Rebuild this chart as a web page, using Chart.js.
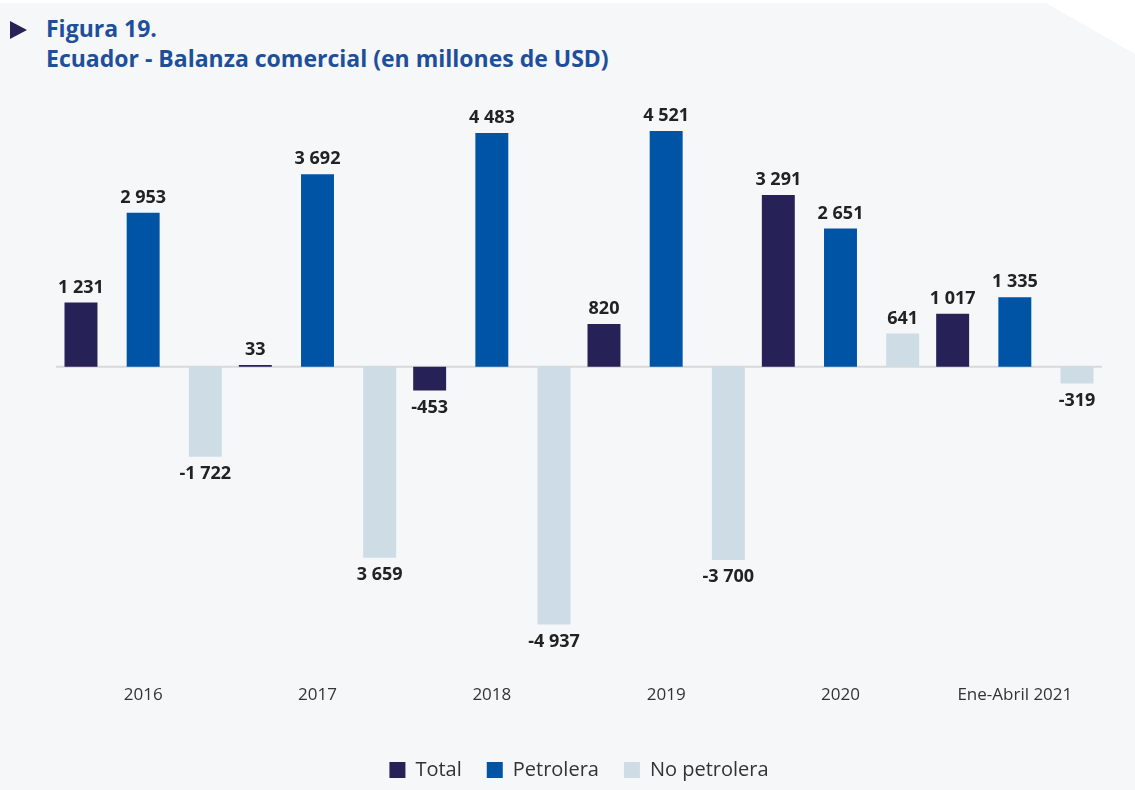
<!DOCTYPE html>
<html><head><meta charset="utf-8">
<script src="https://cdn.jsdelivr.net/npm/chart.js@4/dist/chart.umd.min.js"></script>
<style>
html,body{margin:0;padding:0;background:#fff;width:1135px;height:790px;overflow:hidden;font-family:"Open Sans",sans-serif;}
#bg{position:absolute;left:0;top:3px;width:1135px;height:787px;background:#f6f7f9;
 clip-path:polygon(0 0,1046px 0,1135px 51px,1135px 100%,0 100%);}
#tri{position:absolute;left:10px;top:21px;width:0;height:0;border-top:9px solid transparent;border-bottom:9px solid transparent;border-left:17px solid #262157;}
#title{position:absolute;left:46px;top:13px;color:#1d4f9b;font-weight:700;font-size:23px;line-height:30px;white-space:nowrap;}
#wrap{position:absolute;left:0;top:0;width:1135px;height:790px;}
</style></head>
<body>
<div id="bg"></div>
<div id="tri"></div>
<div id="title">Figura 19.<br>Ecuador - Balanza comercial (en millones de USD)</div>
<div id="wrap"><canvas id="c" width="1135" height="790"></canvas></div>
<script>
const categories = ["2016","2017","2018","2019","2020","Ene-Abril 2021"];
const seriesNames = ["Total","Petrolera","No petrolera"];
const total = [1231, 33, -453, 820, 3291, 1017];
const petrolera = [2953, 3692, 4483, 4521, 2651, 1335];
const noPetrolera = [-1722, -3659, -4937, -3700, 641, -319];
const totalLabels = ["1 231","33","-453","820","3 291","1 017"];
const petroleraLabels = ["2 953","3 692","4 483","4 521","2 651","1 335"];
const noPetroleraLabels = ["-1 722","3 659","-4 937","-3 700","641","-319"];
const colors = ["#262157","#0054a6","#cddce5"];

const valueLabels = {
  id:'valueLabels',
  beforeDatasetsDraw(chart){
    const ctx=chart.ctx, y=chart.scales.y, a=chart.chartArea;
    const zy=y.getPixelForValue(0);
    ctx.save();ctx.strokeStyle='#d9d9d9';ctx.lineWidth=2;
    ctx.beginPath();ctx.moveTo(a.left,zy);ctx.lineTo(a.right,zy);ctx.stroke();ctx.restore();
  },
  afterDatasetsDraw(chart){
    const ctx=chart.ctx;
    ctx.save();
    ctx.font='700 18px "Open Sans"';ctx.fillStyle='#222';ctx.textAlign='center';
    chart.data.datasets.forEach((ds,di)=>{
      const meta=chart.getDatasetMeta(di);
      meta.data.forEach((bar,i)=>{
        const v=ds.data[i];const t=ds.labels[i];
        if(v>=0){ctx.textBaseline='bottom';ctx.fillText(t,bar.x,bar.y-6);}
        else{ctx.textBaseline='top';ctx.fillText(t,bar.x,bar.y+8);}
      });
    });
    ctx.restore();
  }
};

new Chart(document.getElementById('c'),{
  type:'bar',
  data:{labels:categories,datasets:[
    {label:seriesNames[0],data:total,labels:totalLabels,backgroundColor:colors[0]},
    {label:seriesNames[1],data:petrolera,labels:petroleraLabels,backgroundColor:colors[1]},
    {label:seriesNames[2],data:noPetrolera,labels:noPetroleraLabels,backgroundColor:colors[2]}
  ]},
  options:{
    responsive:false,animation:false,
    devicePixelRatio:1,
    datasets:{bar:{categoryPercentage:1.07,barPercentage:0.53}},
    layout:{padding:{left:56,right:33,top:108,bottom:0}},
    plugins:{
      legend:{position:'bottom',labels:{boxWidth:16,boxHeight:16,padding:25,color:'#333',font:{family:'"Open Sans"',size:20}}},
      tooltip:{enabled:false}
    },
    scales:{
      x:{grid:{display:false},border:{display:false},
         afterFit(scale){scale.height+=13;},
         ticks:{color:'#333',padding:17,font:{family:'"Open Sans"',size:17}}},
      y:{display:false,min:-5610,max:4960}
    }
  },
  plugins:[valueLabels]
});
</script>
</body></html>
